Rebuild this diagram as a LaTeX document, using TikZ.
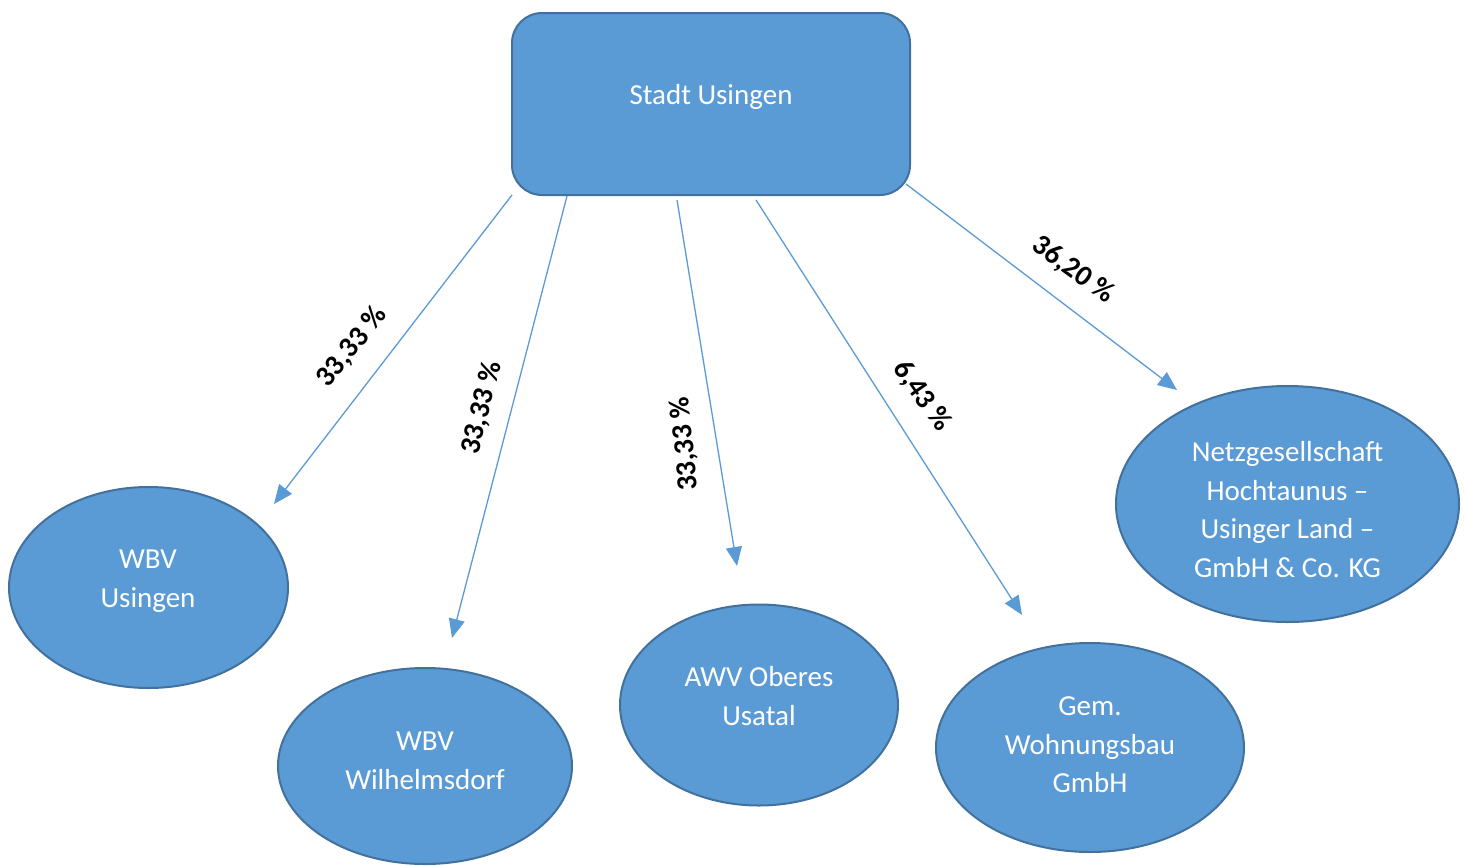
\documentclass[tikz,border=0pt]{standalone}
\usepackage{fontspec}
\setmainfont{Carlito}
\usetikzlibrary{shapes.geometric,arrows.meta}
\definecolor{fillb}{HTML}{5B9BD5}
\definecolor{edgeb}{HTML}{41719C}
\begin{document}
\begin{tikzpicture}[x=1pt,y=-1pt,
  unit/.style={draw=edgeb, fill=fillb, line width=2pt, ellipse, inner sep=0pt},
  txt/.style={text=white, align=center, font=\fontsize{29}{38.5}\selectfont},
  pct/.style={text=black, font=\fontsize{29}{34}\selectfont\bfseries},
  link/.style={draw=fillb, line width=1.3pt, -{Triangle[length=19pt,width=16pt]}}]
\useasboundingbox (0,0) rectangle (1467,865);
% top box
\node[draw=edgeb, fill=fillb, line width=2pt, rounded corners=30pt, minimum width=398pt, minimum height=182pt, inner sep=0pt] (stadt) at (711,104) {};
\node[txt] (stadtT) at (711,97) {Stadt Usingen};
% ellipses
\node[unit, minimum width=279pt, minimum height=201pt] (e1) at (148.5,587.5) {};
\node[unit, minimum width=294pt, minimum height=196pt] (e2) at (425,766) {};
\node[unit, minimum width=278pt, minimum height=201pt] (e3) at (759,705) {};
\node[unit, minimum width=308pt, minimum height=209pt] (e4) at (1090,747.5) {};
\node[unit, minimum width=343pt, minimum height=236pt] (e5) at (1287.5,504) {};
\node[txt] (t1) at (148,581) {WBV\\Usingen};
\node[txt] (t2) at (425,761) {WBV\\Wilhelmsdorf};
\node[txt] (t3) at (759,696) {AWV Oberes\\Usatal};
\node[txt] (t4) at (1090,745) {Gem.\\Wohnungsbau\\GmbH};
\node[txt] (t5) at (1287.5,509.5) {Netzgesellschaft\\Hochtaunus –\\Usinger Land –\\GmbH \& Co. KG};
% connectors
\coordinate (s1) at (512,195);
\coordinate (s2) at (567,196);
\coordinate (s3) at (677,200);
\coordinate (s4) at (756,200);
\coordinate (s5) at (906,184);
\coordinate (a1) at (274,504);
\coordinate (a2) at (452,638);
\coordinate (a3) at (737,566);
\coordinate (a4) at (1022,615);
\coordinate (a5) at (1177,390);
\draw[link] (s1) -- (a1);
\draw[link] (s2) -- (a2);
\draw[link] (s3) -- (a3);
\draw[link] (s4) -- (a4);
\draw[link] (s5) -- (a5);
% labels
\node[pct, rotate=51] (p1) at (352,347) {33,33 \%};
\node[pct, rotate=76] (p2) at (482,408) {33,33 \%};
\node[pct, rotate=96] (p3) at (685,444) {33,33 \%};
\node[pct, rotate=-55] (p4) at (922,396) {6,43 \%};
\node[pct, rotate=-36] (p5) at (1073,270) {36,20 \%};
\end{tikzpicture}
\end{document}
